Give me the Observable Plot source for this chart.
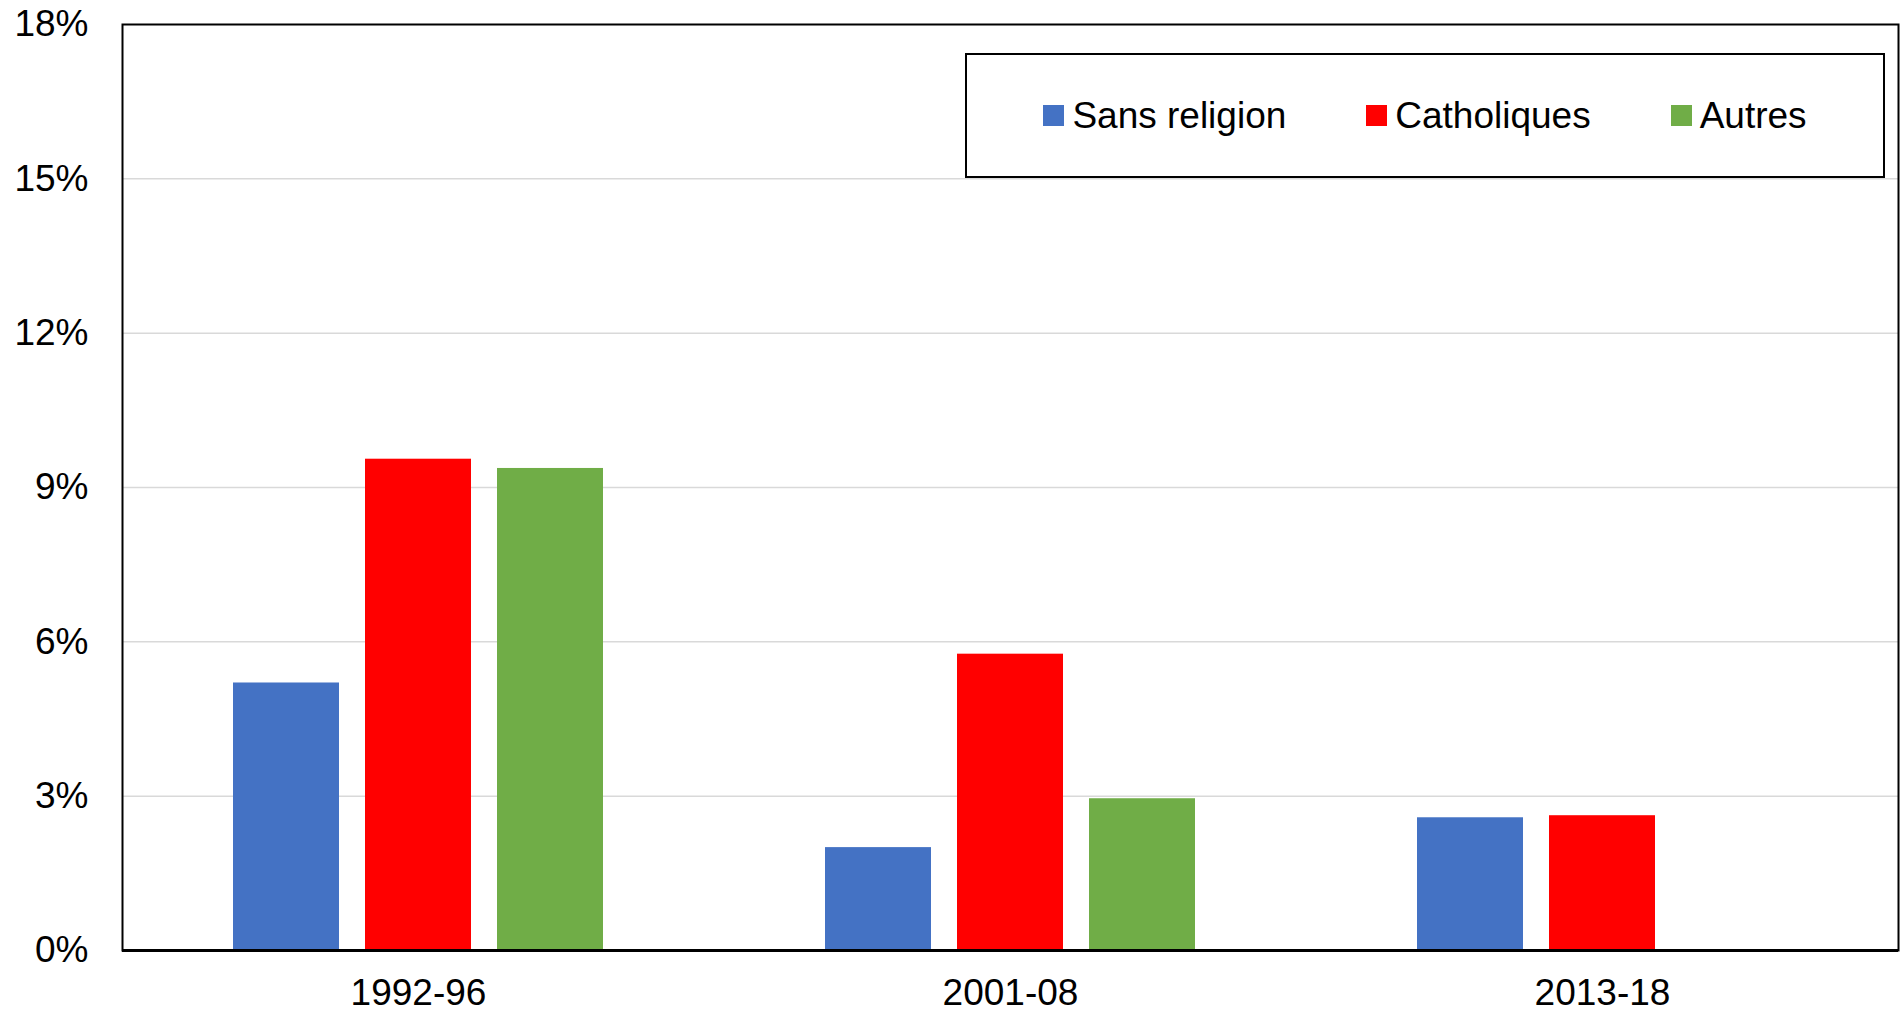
<!DOCTYPE html>
<html>
<head>
<meta charset="utf-8">
<script src="https://cdn.jsdelivr.net/npm/d3@7"></script>
<script src="https://cdn.jsdelivr.net/npm/@observablehq/plot@0.6"></script>
<style>
  html, body { margin: 0; padding: 0; background: #fff; overflow: hidden; }
  #wrap { position: relative; width: 1903px; height: 1012px; font-family: "Liberation Sans", Arial, sans-serif; }
  #legend {
    position: absolute; left: 965px; top: 53px; width: 916px; height: 121px;
    border: 2px solid #000; background: #fff;
    display: flex; align-items: center; justify-content: center; gap: 80px;
    font-size: 37px; color: #000;
  }
  .item { display: flex; align-items: center; gap: 8px; }
  .sw { width: 21px; height: 21px; display: inline-block; }
</style>
</head>
<body>
<div id="wrap"><div id="legend"></div></div>
<script>
const categories = ["1992-96", "2001-08", "2013-18"];
const series = ["Sans religion", "Catholiques", "Autres"];
const colors = ["#4472C4", "#FF0000", "#70AD47"];
const sansReligion = [5.2, 2.0, 2.58];
const catholiques = [9.55, 5.76, 2.62];
const autres = [9.37, 2.95, null];
const yTicks = [0, 3, 6, 9, 12, 15, 18];

const valuesBySeries = [sansReligion, catholiques, autres];
const rows = [];
categories.forEach((c, i) => {
  series.forEach((s, j) => {
    const v = valuesBySeries[j][i];
    if (v != null) rows.push({cat: c, serie: s, value: v});
  });
});

const chart = Plot.plot({
  width: 1903,
  height: 1012,
  marginLeft: 121,
  marginRight: 4,
  marginTop: 24,
  marginBottom: 62,
  style: {fontFamily: "'Liberation Sans', Arial, sans-serif", fontSize: "37px", color: "#000", background: "#fff"},
  fx: {domain: categories, padding: 0, axis: "bottom", label: null, tickSize: 0, tickPadding: 28},
  x: {domain: series, paddingInner: 0.2, paddingOuter: 0.84, axis: null},
  y: {domain: [0, 18], ticks: yTicks, tickFormat: d => d + "%", tickSize: 0, tickPadding: 34, label: null},
  color: {domain: series, range: colors},
  marks: [
    Plot.gridY(yTicks.filter(t => t > 0 && t < 18), {stroke: "#d9d9d9", strokeOpacity: 1, strokeWidth: 1.5}),
    Plot.barY(rows, {fx: "cat", x: "serie", y: "value", fill: "serie"}),
    Plot.ruleY([0], {stroke: "#000", strokeWidth: 3}),
    Plot.frame({facet: "super", stroke: "#000", strokeWidth: 2})
  ]
});
document.getElementById("wrap").prepend(chart);

const legend = document.getElementById("legend");
series.forEach((s, j) => {
  const it = document.createElement("div");
  it.className = "item";
  const sw = document.createElement("span");
  sw.className = "sw";
  sw.style.background = colors[j];
  const t = document.createElement("span");
  t.textContent = s;
  it.append(sw, t);
  legend.append(it);
});
</script>
</body>
</html>
